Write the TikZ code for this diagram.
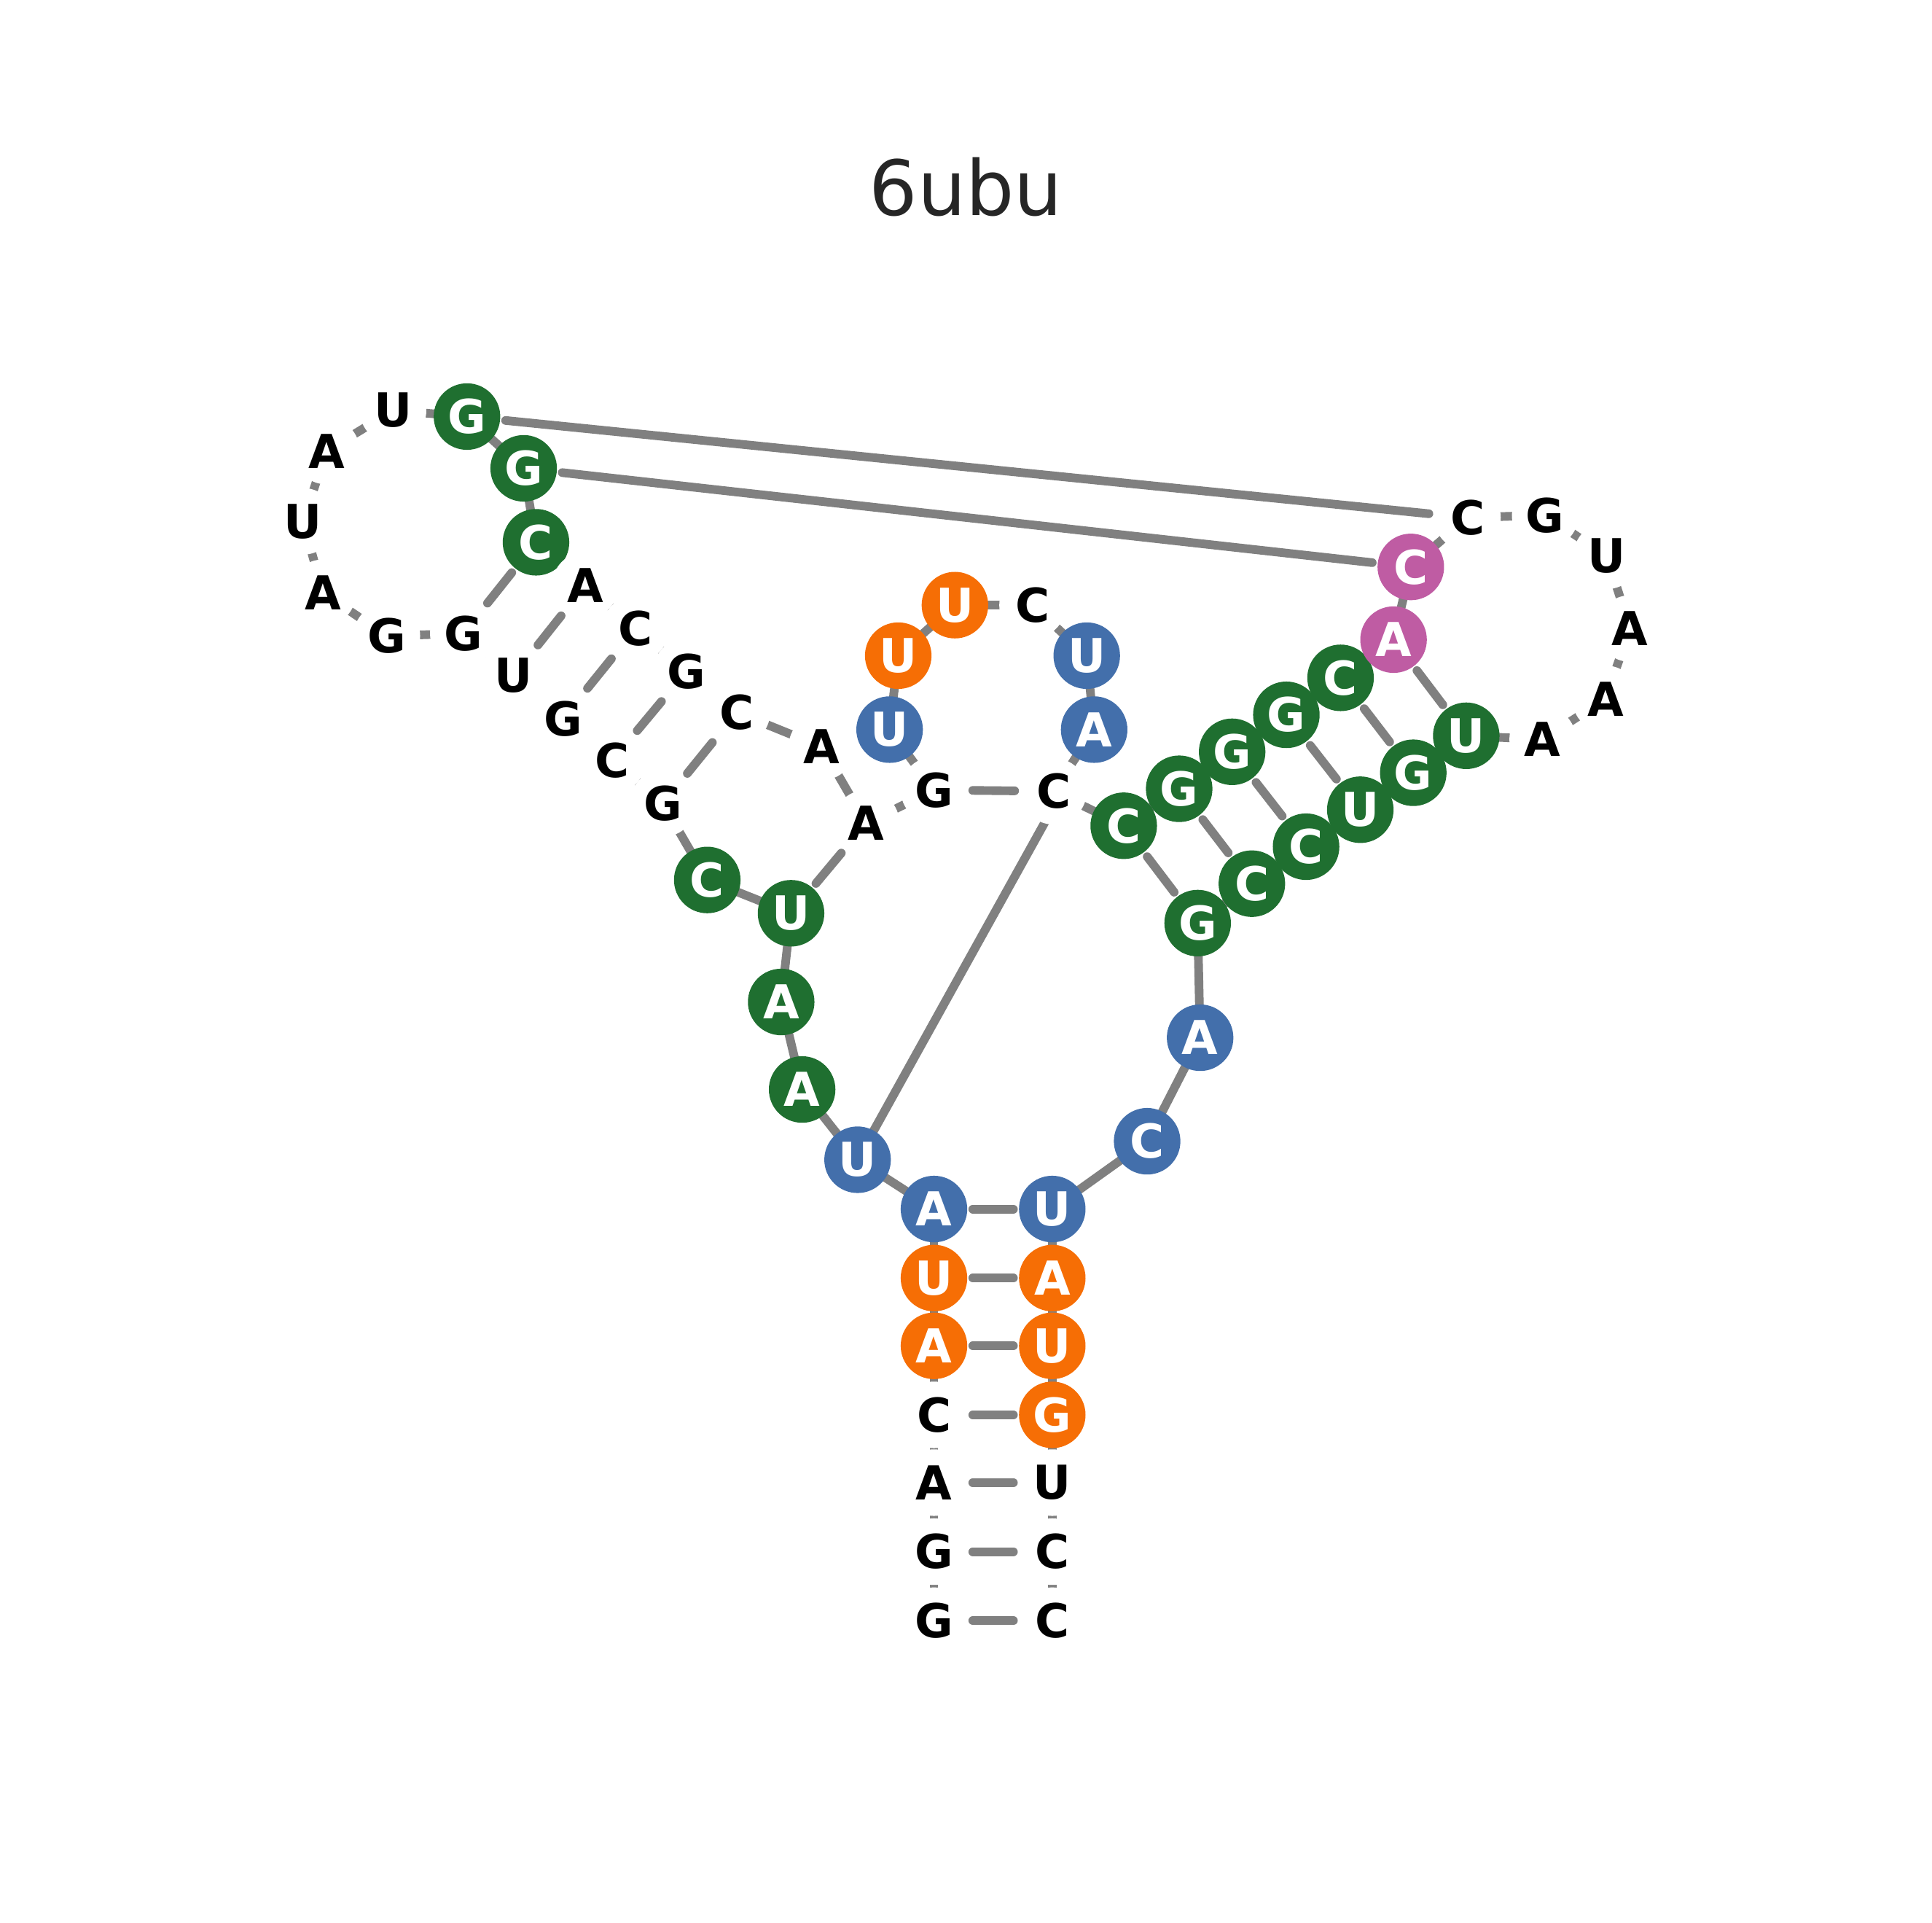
\documentclass[tikz,border=0pt]{standalone}
\usepackage{fontspec}
\setmainfont{DejaVu Sans}
\usepackage{tikz}
\usepackage{xcolor}
\usetikzlibrary{backgrounds}

\definecolor{ntgreen}{RGB}{31,111,48}
\definecolor{ntblue}{RGB}{67,111,171}
\definecolor{ntorange}{RGB}{246,110,5}
\definecolor{ntpink}{RGB}{191,92,163}
\definecolor{linegray}{RGB}{128,128,128}
\definecolor{titlegray}{RGB}{38,38,38}

\begin{document}
\begin{tikzpicture}[
    x=0.1mm, y=-0.1mm,
    nt/.style={circle, fill=white, minimum size=5.4mm, inner sep=0pt, font=\bfseries\fontsize{10.8}{13}\selectfont},
    ntG/.style={nt, fill=ntgreen, text=white},
    ntB/.style={nt, fill=ntblue, text=white},
    ntO/.style={nt, fill=ntorange, text=white},
    ntP/.style={nt, fill=ntpink, text=white},
    backbone/.style={draw=linegray, line width=2pt},
    pair/.style={draw=linegray, line width=2pt, line cap=round, shorten >=3.15mm, shorten <=3.15mm}
]
\useasboundingbox (0,0) rectangle (1568,1560);

\node [font=\fontsize{17.6}{21}\selectfont, text=titlegray, anchor=base] (title) at (784,175) {6ubu};

% bottom stem, 5' side
\node [nt] (n1) at (758,1315) {G};
\node [nt] (n2) at (758,1259) {G};
\node [nt] (n3) at (758,1203) {A};
\node [nt] (n4) at (758,1148) {C};
\node [ntO] (n5) at (758,1092) {A};
\node [ntO] (n6) at (758,1037) {U};
\node [ntB] (n7) at (758,981) {A};
\node [ntB] (n8) at (696,941) {U};
\node [ntG] (n9) at (651,884) {A};
\node [ntG] (n10) at (634,813) {A};
\node [ntG] (n11) at (642,741) {U};
\node [ntG] (n12) at (574,714) {C};
% left hairpin
\node [nt] (n13) at (538,652) {G};
\node [nt] (n14) at (497,617) {C};
\node [nt] (n15) at (457,583) {G};
\node [nt] (n16) at (417,548) {U};
\node [nt] (n17) at (376,514) {G};
\node [nt] (n18) at (314,516) {G};
\node [nt] (n19) at (262,481) {A};
\node [nt] (n20) at (246,423) {U};
\node [nt] (n21) at (265,366) {A};
\node [nt] (n22) at (319,333) {U};
\node [ntG] (n23) at (379,338) {G};
\node [ntG] (n24) at (425,380) {G};
\node [ntG] (n25) at (435,440) {C};
\node [nt] (n26) at (475,475) {A};
\node [nt] (n27) at (516,510) {C};
\node [nt] (n28) at (557,545) {G};
\node [nt] (n29) at (598,578) {C};
\node [nt] (n30) at (667,606) {A};
\node [nt] (n31) at (703,668) {A};
% top hairpin
\node [nt] (n32) at (758,641) {G};
\node [ntB] (n33) at (722,592) {U};
\node [ntO] (n34) at (729,532) {U};
\node [ntO] (n35) at (775,491) {U};
\node [nt] (n36) at (838,491) {C};
\node [ntB] (n37) at (882,532) {U};
\node [ntB] (n38) at (888,592) {A};
\node [nt] (n39) at (855,642) {C};
% right hairpin
\node [ntG] (n40) at (912,670) {C};
\node [ntG] (n41) at (957,640) {G};
\node [ntG] (n42) at (1000,610) {G};
\node [ntG] (n43) at (1044,580) {G};
\node [ntG] (n44) at (1088,550) {C};
\node [ntP] (n45) at (1131,519) {A};
\node [ntP] (n46) at (1145,460) {C};
\node [nt] (n47) at (1191,420) {C};
\node [nt] (n48) at (1254,418) {G};
\node [nt] (n49) at (1304,451) {U};
\node [nt] (n50) at (1323,510) {A};
\node [nt] (n51) at (1303,567) {A};
\node [nt] (n52) at (1252,600) {A};
\node [ntG] (n53) at (1190,597) {U};
\node [ntG] (n54) at (1147,627) {G};
\node [ntG] (n55) at (1104,657) {U};
\node [ntG] (n56) at (1060,687) {C};
\node [ntG] (n57) at (1016,717) {C};
\node [ntG] (n58) at (972,749) {G};
\node [ntB] (n59) at (974,842) {A};
\node [ntB] (n60) at (931,926) {C};
% bottom stem, 3' side
\node [ntB] (n61) at (854,981) {U};
\node [ntO] (n62) at (854,1037) {A};
\node [ntO] (n63) at (854,1092) {U};
\node [ntO] (n64) at (854,1148) {G};
\node [nt] (n65) at (854,1203) {U};
\node [nt] (n66) at (854,1259) {C};
\node [nt] (n67) at (854,1315) {C};

\begin{scope}[on background layer]
\foreach \i [evaluate=\i as \j using int(\i+1)] in {1,...,66}
    \path [backbone] (n\i.center) -- (n\j.center);
\foreach \a/\b in {1/67, 2/66, 3/65, 4/64, 5/63, 6/62, 7/61, 11/31,
                   13/29, 14/28, 15/27, 16/26, 17/25, 32/39,
                   40/58, 41/57, 42/56, 43/55, 44/54, 45/53, 23/47, 24/46}
    \path [pair] (n\a.center) -- (n\b.center);
% long contact, hidden under the C at its top end
\path [pair, shorten <=2.65mm, shorten >=0mm] (n8.center) -- ([xshift=0.7mm]n39.center);
\end{scope}

\end{tikzpicture}
\end{document}
